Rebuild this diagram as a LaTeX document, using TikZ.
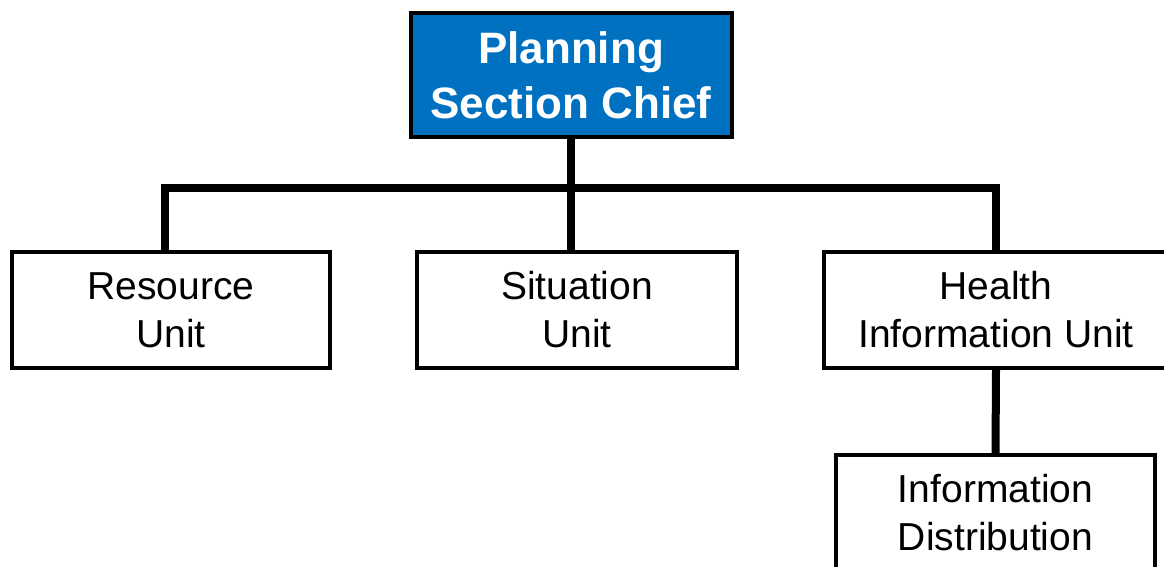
\documentclass[tikz,border=0pt]{standalone}
\usepackage{fontspec}
\setmainfont{Liberation Sans}
\usetikzlibrary{positioning}
\definecolor{chiefblue}{RGB}{0,112,192}
\tikzset{
    unitbox/.style={draw=black, line width=4pt, fill=white, align=center,
        inner sep=0pt, font=\fontsize{39}{48}\selectfont},
    chiefbox/.style={unitbox, fill=chiefblue, text=white,
        font=\fontsize{44}{55}\selectfont\bfseries},
    conn/.style={line width=8pt, line join=miter}
}
\begin{document}
\begin{tikzpicture}[x=1pt, y=-1pt]
    % 1. Khung hình
    \useasboundingbox (0, 0) rectangle (1164, 567);
    \clip (0, 0) rectangle (1164, 567);

    % 2. Các ô đơn vị
    \node[chiefbox, minimum width=321pt, minimum height=124pt] (chief) at (571, 75.5) {Planning\\Section Chief};
    \node[unitbox, minimum width=318pt, minimum height=116pt] (res) at (171, 310) {Resource\\Unit};
    \node[unitbox, minimum width=320pt, minimum height=116pt] (sit) at (577, 310) {Situation\\Unit};
    \node[unitbox, minimum width=344pt, minimum height=116pt] (hlth) at (996, 310) {Health\\Information Unit};
    \node[unitbox, minimum width=319pt, minimum height=116pt] (dist) at (995.5, 513) {Information\\Distribution};

    % 3. Đường nối
    \draw[conn] (chief.south) -- (chief.south |- sit.north);
    \draw[conn] ([xshift=-6pt]res.north) -- ++(0, -62) -| (hlth.north);
    \draw[conn] (hlth.south) -- (dist.north);
\end{tikzpicture}
\end{document}
